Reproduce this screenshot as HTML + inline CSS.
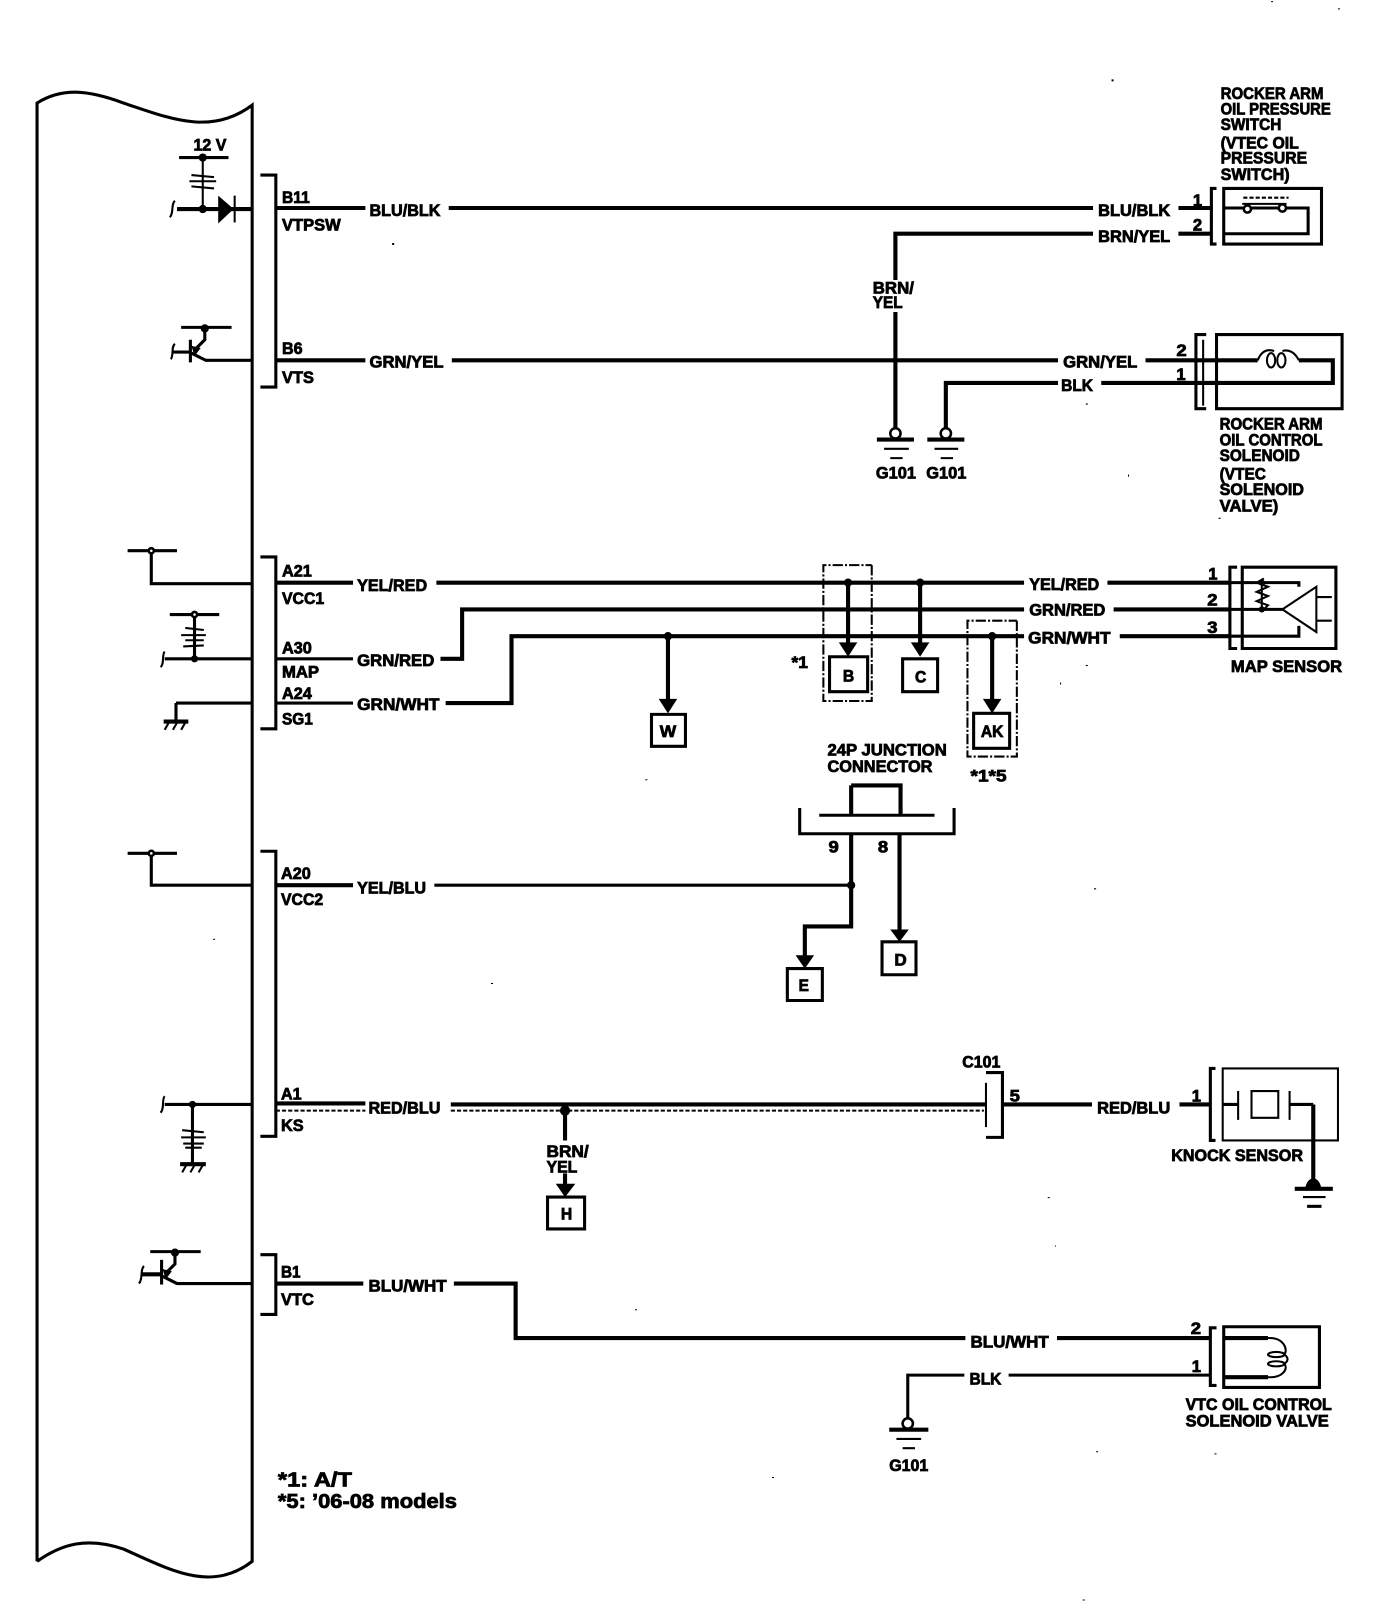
<!DOCTYPE html>
<html><head><meta charset="utf-8"><style>
html,body{margin:0;padding:0;background:#fff}
svg{display:block}
text{font-family:"Liberation Sans",sans-serif;font-weight:bold;font-size:16px;fill:#000;stroke:#000;stroke-width:.75}
.t{fill:none;stroke:#000;stroke-width:4}
.m{fill:none;stroke:#000;stroke-width:3}
.n{fill:none;stroke:#000;stroke-width:2}
.f{fill:#000;stroke:none}
.c{fill:#fff;stroke:#000;stroke-width:2.5}
.d{fill:none;stroke:#000;stroke-width:2;stroke-dasharray:10 2 2 2}
</style></head><body>
<svg width="1392" height="1614" viewBox="0 0 1352.5 1568" xmlns="http://www.w3.org/2000/svg">
<rect width="1353" height="1568" fill="#fff"/>
<path class="m" d="M36 1517V100C60 85 85 87 120 100C165 115 205 132 245 102V1517C205 1548 165 1525 120 1505C85 1493 60 1500 36 1517"/>

<!-- Stray scan specks -->
<path class="f" d="M381 236h2v2h-2zM1080 77h2v2h-2zM1055 392h2v1h-2zM1096 461h1v2h-1zM1184 503h2v1h-2zM1030 663h1v2h-1zM1055 646h2v1h-2zM627 757h2v1h-2zM1063 863h2v1h-2zM477 955h2v1h-2zM617 1272h2v1h-2zM207 912h2v1h-2zM1018 1163h2v1h-2zM1052 1554h2v1h-2zM750 1435h2v1h-2zM1300 8h2v1h-2zM1235 1h2v1h-2zM1180 1412h2v1h-2zM1065 1410h2v1h-2zM1025 1210h1v1h-1z"/>

<!-- Section 1 -->
<path class="m" d="M174 153H222"/><path class="n" d="M197 153V202"/>
<path class="n" d="M186 170L208 172M184 176L210 176M186 181L208 183"/>
<path class="t" d="M172 203H245"/><circle class="f" cx="197" cy="203" r="4"/><circle class="f" cx="197" cy="153" r="4"/>
<path class="n" d="M170 195C166 198 169 207 165 211"/>
<path class="f" d="M212 190V217L227 203Z"/><path class="n" d="M228 190V216"/>
<path class="m" d="M253 170H268V376H253"/>
<path class="t" d="M268 202H355M436 202H1062M1145 202H1177M268 350H355M439 350H1028M1113 350H1162"/>
<path class="t" d="M1062 227H870V272M870 303V416M1145 227H1177M1028 372H919V416M1070 372H1162"/>
<path class="m" d="M1182 183H1177V237H1182"/><path class="m" d="M1189 183H1284V237H1189Z"/>
<path class="m" d="M1189 202H1271V227H1189"/>
<path class="n" d="M1207 198H1250"/><path class="n" stroke-dasharray="4 2" d="M1208 192H1252"/>
<circle class="c" cx="1212" cy="203" r="3.5"/><circle class="c" cx="1246" cy="202" r="3.5"/>
<circle class="c" cx="870" cy="421" r="5"/><circle class="c" cx="919" cy="421" r="5"/>
<path class="t" d="M852 427H888M901 427H937"/><path class="n" d="M859 436H883M865 445H877M908 436H931M914 445H926"/>
<path class="m" d="M1172 325H1162V397H1172"/><path class="n" d="M1169 330V394"/>
<path class="m" d="M1182 325H1304V397H1182Z"/>
<path class="t" d="M1162 350H1222M1262 350H1295V372H1162"/>
<path class="n" d="M1222 350C1226 340 1232 339 1238 341M1246 341C1252 339 1258 342 1262 350"/>
<ellipse class="n" cx="1235" cy="350" rx="4" ry="7"/><ellipse class="n" cx="1245" cy="350" rx="4" ry="7"/>
<path class="m" d="M176 318H225"/><circle class="f" cx="199" cy="319" r="4"/>
<path class="m" d="M199 318V330L190 339"/><path class="f" d="M186 336L195 338L189 346Z"/>
<path class="m" d="M185 330V352M168 342H185"/><path class="n" d="M170 334C166 337 169 345 166 349"/>
<path class="m" d="M186 343L200 350H245"/>

<!-- Section 2 -->
<path class="m" d="M124 535H172M147 535V567H245"/><circle class="c" cx="147" cy="535" r="2.5"/>
<path class="m" d="M253 541H268V708H253"/>
<path class="t" d="M268 566H343M424 566H995M1076 566H1195"/>
<path class="m" d="M165 597H213M189 597V640"/><circle class="c" cx="189" cy="597" r="2.5"/>
<path class="n" d="M180 610L198 612M176 617L200 617M180 622L198 622M178 628L198 627"/>
<path class="m" d="M160 640H245"/><circle class="f" cx="189" cy="640" r="3.5"/><path class="n" d="M160 633C157 636 160 645 156 648"/>
<path class="m" d="M268 640H343M268 683H343M171 683H245M171 683V700"/>
<path class="t" d="M159 701H183"/><path class="n" d="M164 702L160 709M172 702L168 709M180 702L176 709"/>
<path class="t" d="M428 640H449V592H995M1082 592H1195"/>
<path class="t" d="M433 683H497V618H995M1088 618H1195"/>
<path class="d" d="M847 549V681H800V549H847"/>
<path class="d" d="M988 603V735H940V603H988"/>
<path class="t" d="M824 566V628M894 566V628M649 618V682M964 618V682"/>
<circle class="f" cx="824" cy="566" r="4"/><circle class="f" cx="894" cy="566" r="4"/><circle class="f" cx="649" cy="618" r="4"/><circle class="f" cx="964" cy="618" r="4"/>
<path class="f" d="M815 624H833L824 638ZM885 624H903L894 638ZM640 679H658L649 693ZM955 679H973L964 693Z"/>
<path class="m" d="M806 638H843V672H806ZM877 640H911V672H877ZM633 694H666V725H633ZM946 693H981V727H946Z"/>
<path class="m" d="M1202 551H1195V630H1202"/><path class="m" d="M1207 551H1298V630H1207Z"/>
<path class="m" d="M1195 566H1262V570M1195 592H1246M1195 618H1262V608"/>
<path class="n" d="M1246 592L1279 570V614ZM1280 580H1294M1280 603H1294M1228 562L1221 566L1232 570L1221 575L1232 579L1221 584L1232 588L1226 594M1226 566V592"/>
<circle class="f" cx="1226" cy="592" r="3"/><circle class="f" cx="1226" cy="566" r="3"/>

<!-- Section 3 -->
<path class="m" d="M124 829H172M147 829V860H245"/><circle class="c" cx="147" cy="829" r="2.5"/>
<path class="m" d="M253 827H268V1104H253"/>
<path class="t" d="M268 860H343"/><path class="m" d="M422 860H827"/>
<circle class="f" cx="827" cy="860" r="4"/>
<path class="t" d="M827 763H875V792M827 763V792"/>
<path class="m" d="M796 792H908M777 785V810H927V785"/>
<path class="t" d="M827 810V900H782V931M874 810V905"/>
<path class="f" d="M773 928H791L782 941ZM865 903H883L874 915Z"/>
<path class="m" d="M765 941H799V972H765ZM857 915H890V947H857Z"/>

<!-- Section 4 -->
<path class="m" d="M160 1073H245M187 1073V1130"/><circle class="f" cx="187" cy="1073" r="3.5"/><path class="n" d="M160 1065C157 1068 160 1077 156 1081"/>
<path class="n" d="M177 1098L198 1100M176 1105L200 1105M178 1111L198 1111M180 1115L196 1115"/>
<path class="t" d="M175 1131H200"/><path class="n" d="M181 1132L177 1139M189 1132L185 1139M197 1132L193 1139"/>
<path class="t" d="M268 1072H355M438 1073H958M974 1073H1061M1146 1073H1176"/>
<path class="n" stroke-dasharray="4 2" d="M268 1079H355M438 1079H956"/>
<circle class="f" cx="549" cy="1079" r="5"/>
<path class="t" d="M549 1079V1108M549 1140V1152"/>
<path class="f" d="M540 1150H559L549 1163Z"/>
<path class="m" d="M532 1163H568V1194H532Z"/>
<path class="m" d="M958 1042H974V1105H958"/><path class="n" d="M958 1052V1095"/>
<path class="m" d="M1181 1038H1176V1108H1181"/><path class="n" d="M1188 1038H1300V1108H1188Z"/>
<path class="m" d="M1188 1073H1203M1253 1073H1276"/><path class="t" d="M1276 1073V1152"/>
<path class="n" d="M1203 1060V1088M1253 1060V1088M1216 1060H1242V1086H1216Z"/>
<path class="f" d="M1268 1155Q1270 1145 1276 1145Q1282 1145 1284 1155Z"/>
<path class="t" d="M1258 1155H1295"/><path class="n" d="M1266 1163H1288"/><path class="m" d="M1270 1172H1284"/>

<!-- Section 5 -->
<path class="m" d="M146 1216H195"/><circle class="f" cx="170" cy="1217" r="4"/>
<path class="m" d="M170 1216V1228L162 1236"/><path class="f" d="M158 1233L167 1235L161 1243Z"/>
<path class="m" d="M157 1224V1248"/><path class="t" d="M138 1238H157"/><path class="n" d="M140 1230C136 1233 139 1243 135 1247"/>
<path class="m" d="M158 1240L172 1247H245"/>
<path class="m" d="M253 1219H268V1277H253"/>
<path class="t" d="M268 1247H353M441 1247H501V1300H938M1027 1300H1177"/>
<path class="m" d="M937 1336H882V1378M980 1336H1177"/>
<circle class="c" cx="882" cy="1383" r="5"/><path class="t" d="M864 1389H902"/><path class="n" d="M871 1398H895M877 1407H889"/>
<path class="m" d="M1182 1290H1176V1346H1182"/><path class="m" d="M1189 1289H1282V1348H1189Z"/>
<path class="t" d="M1189 1300H1232M1189 1338H1232"/>
<path class="n" d="M1232 1300C1246 1299 1252 1310 1248 1316C1252 1319 1252 1322 1248 1325C1252 1330 1246 1339 1232 1338"/>
<ellipse class="n" cx="1240" cy="1316" rx="8" ry="2.5"/><ellipse class="n" cx="1240" cy="1325" rx="8" ry="2.5"/>

<!-- Text -->
<g>
<text lengthAdjust="spacingAndGlyphs" x="188" y="146" textLength="32">12 V</text>
<text lengthAdjust="spacingAndGlyphs" x="274" y="197" textLength="27">B11</text>
<text lengthAdjust="spacingAndGlyphs" x="274" y="224" textLength="57">VTPSW</text>
<text lengthAdjust="spacingAndGlyphs" x="274" y="344" textLength="20">B6</text>
<text lengthAdjust="spacingAndGlyphs" x="274" y="372" textLength="31">VTS</text>
<text lengthAdjust="spacingAndGlyphs" x="359" y="210" textLength="69">BLU/BLK</text>
<text lengthAdjust="spacingAndGlyphs" x="359" y="357" textLength="72">GRN/YEL</text>
<text lengthAdjust="spacingAndGlyphs" x="1067" y="210" textLength="70">BLU/BLK</text>
<text lengthAdjust="spacingAndGlyphs" x="1067" y="235" textLength="70">BRN/YEL</text>
<text lengthAdjust="spacingAndGlyphs" x="1033" y="357" textLength="72">GRN/YEL</text>
<text lengthAdjust="spacingAndGlyphs" x="1031" y="380" textLength="31">BLK</text>
<text lengthAdjust="spacingAndGlyphs" x="848" y="285" textLength="40">BRN/</text>
<text lengthAdjust="spacingAndGlyphs" x="848" y="299" textLength="29">YEL</text>
<text lengthAdjust="spacingAndGlyphs" x="1159" y="200" textLength="9">1</text>
<text lengthAdjust="spacingAndGlyphs" x="1159" y="224" textLength="9">2</text>
<text lengthAdjust="spacingAndGlyphs" x="1143" y="346" textLength="10">2</text>
<text lengthAdjust="spacingAndGlyphs" x="1143" y="369" textLength="9">1</text>
<text lengthAdjust="spacingAndGlyphs" x="851" y="465" textLength="39">G101</text>
<text lengthAdjust="spacingAndGlyphs" x="900" y="465" textLength="39">G101</text>
<text lengthAdjust="spacingAndGlyphs" x="1186" y="96" textLength="100">ROCKER ARM</text>
<text lengthAdjust="spacingAndGlyphs" x="1186" y="111" textLength="107">OIL PRESSURE</text>
<text lengthAdjust="spacingAndGlyphs" x="1186" y="126" textLength="59">SWITCH</text>
<text lengthAdjust="spacingAndGlyphs" x="1186" y="144" textLength="76">(VTEC OIL</text>
<text lengthAdjust="spacingAndGlyphs" x="1186" y="159" textLength="84">PRESSURE</text>
<text lengthAdjust="spacingAndGlyphs" x="1186" y="175" textLength="67">SWITCH)</text>
<text lengthAdjust="spacingAndGlyphs" x="1185" y="417" textLength="100">ROCKER ARM</text>
<text lengthAdjust="spacingAndGlyphs" x="1185" y="433" textLength="100">OIL CONTROL</text>
<text lengthAdjust="spacingAndGlyphs" x="1185" y="448" textLength="78">SOLENOID</text>
<text lengthAdjust="spacingAndGlyphs" x="1185" y="466" textLength="45">(VTEC</text>
<text lengthAdjust="spacingAndGlyphs" x="1185" y="481" textLength="82">SOLENOID</text>
<text lengthAdjust="spacingAndGlyphs" x="1185" y="497" textLength="57">VALVE)</text>

<text lengthAdjust="spacingAndGlyphs" x="274" y="560" textLength="29">A21</text>
<text lengthAdjust="spacingAndGlyphs" x="274" y="587" textLength="41">VCC1</text>
<text lengthAdjust="spacingAndGlyphs" x="274" y="635" textLength="29">A30</text>
<text lengthAdjust="spacingAndGlyphs" x="274" y="658" textLength="36">MAP</text>
<text lengthAdjust="spacingAndGlyphs" x="274" y="679" textLength="29">A24</text>
<text lengthAdjust="spacingAndGlyphs" x="274" y="704" textLength="30">SG1</text>
<text lengthAdjust="spacingAndGlyphs" x="347" y="574" textLength="68">YEL/RED</text>
<text lengthAdjust="spacingAndGlyphs" x="347" y="647" textLength="75">GRN/RED</text>
<text lengthAdjust="spacingAndGlyphs" x="347" y="690" textLength="80">GRN/WHT</text>
<text lengthAdjust="spacingAndGlyphs" x="1000" y="573" textLength="68">YEL/RED</text>
<text lengthAdjust="spacingAndGlyphs" x="1000" y="598" textLength="74">GRN/RED</text>
<text lengthAdjust="spacingAndGlyphs" x="999" y="625" textLength="80">GRN/WHT</text>
<text lengthAdjust="spacingAndGlyphs" x="1174" y="563" textLength="9">1</text>
<text lengthAdjust="spacingAndGlyphs" x="1173" y="588" textLength="10">2</text>
<text lengthAdjust="spacingAndGlyphs" x="1173" y="615" textLength="10">3</text>
<text lengthAdjust="spacingAndGlyphs" x="1196" y="653" textLength="108">MAP SENSOR</text>
<text lengthAdjust="spacingAndGlyphs" x="769" y="649" textLength="16">*1</text>
<text lengthAdjust="spacingAndGlyphs" x="819" y="662" textLength="11">B</text>
<text lengthAdjust="spacingAndGlyphs" x="889" y="663" textLength="11">C</text>
<text lengthAdjust="spacingAndGlyphs" x="641" y="716" textLength="16">W</text>
<text lengthAdjust="spacingAndGlyphs" x="953" y="716" textLength="22">AK</text>
<text lengthAdjust="spacingAndGlyphs" x="943" y="759" textLength="35">*1*5</text>
<text lengthAdjust="spacingAndGlyphs" x="804" y="734" textLength="116">24P JUNCTION</text>
<text lengthAdjust="spacingAndGlyphs" x="804" y="750" textLength="102">CONNECTOR</text>
<text lengthAdjust="spacingAndGlyphs" x="805" y="828" textLength="10">9</text>
<text lengthAdjust="spacingAndGlyphs" x="853" y="828" textLength="10">8</text>
<text lengthAdjust="spacingAndGlyphs" x="776" y="963" textLength="10">E</text>
<text lengthAdjust="spacingAndGlyphs" x="869" y="938" textLength="12">D</text>

<text lengthAdjust="spacingAndGlyphs" x="273" y="854" textLength="29">A20</text>
<text lengthAdjust="spacingAndGlyphs" x="273" y="879" textLength="41">VCC2</text>
<text lengthAdjust="spacingAndGlyphs" x="347" y="868" textLength="67">YEL/BLU</text>
<text lengthAdjust="spacingAndGlyphs" x="273" y="1068" textLength="20">A1</text>
<text lengthAdjust="spacingAndGlyphs" x="273" y="1099" textLength="22">KS</text>
<text lengthAdjust="spacingAndGlyphs" x="358" y="1082" textLength="70">RED/BLU</text>
<text lengthAdjust="spacingAndGlyphs" x="1066" y="1082" textLength="71">RED/BLU</text>
<text lengthAdjust="spacingAndGlyphs" x="531" y="1124" textLength="41">BRN/</text>
<text lengthAdjust="spacingAndGlyphs" x="531" y="1139" textLength="30">YEL</text>
<text lengthAdjust="spacingAndGlyphs" x="545" y="1185" textLength="11">H</text>
<text lengthAdjust="spacingAndGlyphs" x="935" y="1037" textLength="37">C101</text>
<text lengthAdjust="spacingAndGlyphs" x="981" y="1070" textLength="10">5</text>
<text lengthAdjust="spacingAndGlyphs" x="1158" y="1070" textLength="9">1</text>
<text lengthAdjust="spacingAndGlyphs" x="1138" y="1128" textLength="128">KNOCK SENSOR</text>

<text lengthAdjust="spacingAndGlyphs" x="273" y="1241" textLength="19">B1</text>
<text lengthAdjust="spacingAndGlyphs" x="273" y="1268" textLength="32">VTC</text>
<text lengthAdjust="spacingAndGlyphs" x="358" y="1255" textLength="76">BLU/WHT</text>
<text lengthAdjust="spacingAndGlyphs" x="943" y="1309" textLength="76">BLU/WHT</text>
<text lengthAdjust="spacingAndGlyphs" x="942" y="1345" textLength="31">BLK</text>
<text lengthAdjust="spacingAndGlyphs" x="1157" y="1296" textLength="10">2</text>
<text lengthAdjust="spacingAndGlyphs" x="1158" y="1333" textLength="9">1</text>
<text lengthAdjust="spacingAndGlyphs" x="864" y="1429" textLength="38">G101</text>
<text lengthAdjust="spacingAndGlyphs" x="1152" y="1370" textLength="142">VTC OIL CONTROL</text>
<text lengthAdjust="spacingAndGlyphs" x="1152" y="1386" textLength="139">SOLENOID VALVE</text>
<text lengthAdjust="spacingAndGlyphs" x="270" y="1444" textLength="72" style="font-size:20px">*1: A/T</text>
<text lengthAdjust="spacingAndGlyphs" x="270" y="1465" textLength="174" style="font-size:20px">*5: ’06-08 models</text>
</g>
</svg>
</body></html>
